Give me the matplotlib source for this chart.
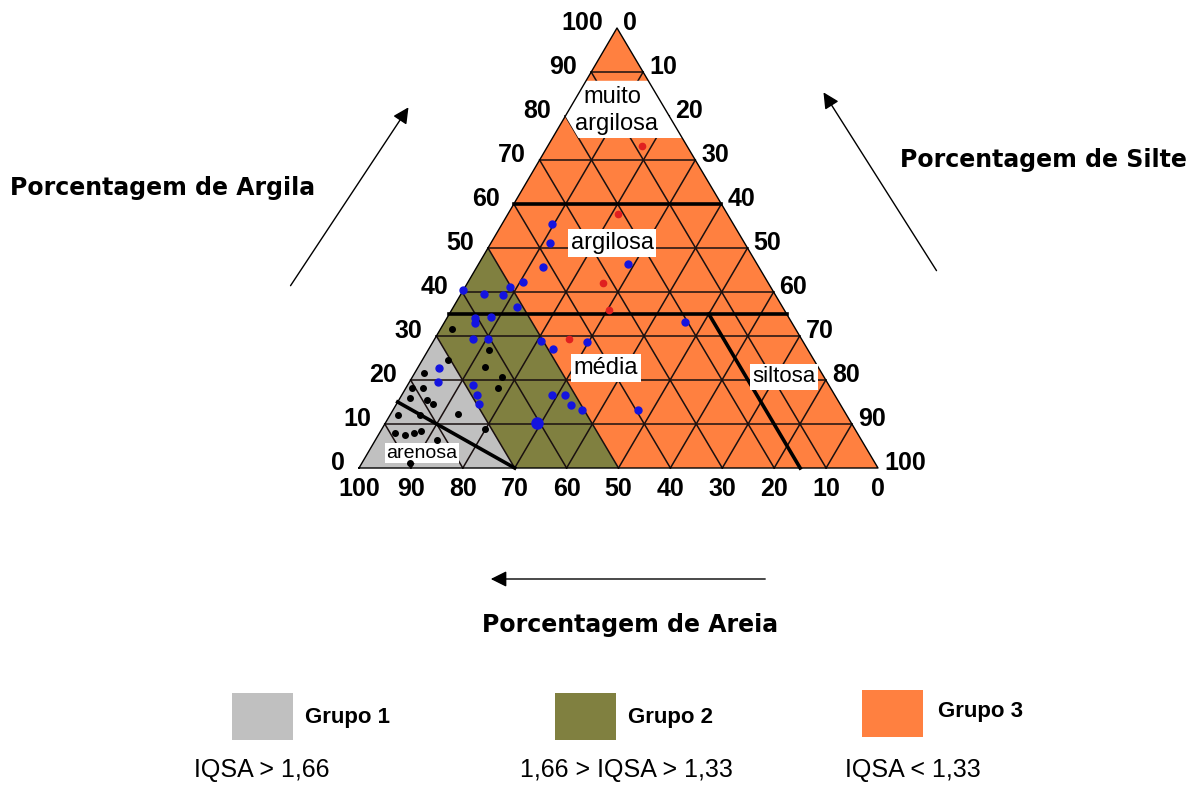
import numpy as np
import matplotlib
matplotlib.use('Agg')
import matplotlib.pyplot as plt
from matplotlib.patches import Polygon

plt.rcParams['font.family'] = ['Liberation Sans', 'DejaVu Sans']

# --- DATA (porcentagens: argila, areia; silte = 100 - argila - areia) ---
ticks = [0, 10, 20, 30, 40, 50, 60, 70, 80, 90, 100]

# grupos (IQSA)
grupo1_argila = [0, 0, 30]
grupo1_areia = [100, 70, 70]
grupo2_argila = [0, 0, 50, 30]
grupo2_areia = [70, 50, 50, 70]
# faixa branca "muito argilosa"
branco_argila = [88, 80, 75, 75, 88]
branco_areia = [12, 20, 20, 0, 0]

# linhas das classes texturais (inicio, fim) em (argila, areia)
classes_ini = [(60, 40), (35, 65), (35, 15), (0, 70)]
classes_fim = [(60, 0), (35, 0), (0, 15), (15, 85)]

pretos_argila = [31.6, 24.5, 21.6, 18.2, 18.2, 15.9, 15.5, 14.5, 12.0, 12.0, 12.3,
                 8.0, 7.5, 8.0, 8.4, 6.4, 8.9, 1.1, 26.8, 23.0, 20.7, 18.2]
pretos_areia = [66.2, 70.5, 76.6, 80.6, 78.5, 82.2, 79.1, 78.4, 86.4, 82.2, 74.7,
                89.0, 87.4, 85.4, 83.8, 81.7, 71.3, 89.6, 61.5, 64.2, 62.0, 64.1]

azuis_argila = [40.5, 39.5, 39.3, 41.1, 42.3, 36.6, 34.1, 33.0, 34.3, 29.3, 29.3,
                22.7, 19.5, 18.9, 16.6, 14.5, 28.9, 27.0, 16.6, 16.6, 14.3, 13.2,
                45.7, 51.1, 55.5, 46.4, 33.2, 28.6, 13.2]
azuis_areia = [59.6, 56.0, 52.5, 50.2, 47.1, 51.2, 60.5, 61.1, 57.3, 63.3, 60.4,
               73.2, 75.0, 68.5, 68.9, 69.5, 50.4, 49.0, 54.5, 52.0, 52.0, 50.4,
               41.6, 37.5, 34.9, 24.8, 20.5, 41.7, 39.6]
azul_grande_argila = [10.2]
azul_grande_areia = [60.6]

vermelhos_argila = [73.2, 57.7, 42.0, 35.9, 29.3]
vermelhos_areia = [8.7, 21.1, 31.9, 33.8, 44.8]

grupos = ['Grupo 1', 'Grupo 2', 'Grupo 3']
iqsa = ['IQSA > 1,66', '1,66 > IQSA > 1,33', 'IQSA < 1,33']
cores = ['#c0c0c0', '#808040', '#ff8040']

# --- triangle corners (pixels) ---
P_AREIA = (359.0, 468.0)
P_SILTE = (878.0, 468.0)
P_ARGILA = (617.0, 28.0)


def tern(argila, areia):
    argila = np.asarray(argila, float) / 100
    areia = np.asarray(areia, float) / 100
    silte = 1 - argila - areia
    x = areia * P_AREIA[0] + silte * P_SILTE[0] + argila * P_ARGILA[0]
    y = areia * P_AREIA[1] + silte * P_SILTE[1] + argila * P_ARGILA[1]
    return x, y


def poly(argila, areia, **kw):
    x, y = tern(argila, areia)
    return Polygon(np.column_stack([x, y]), closed=True, **kw)


fig = plt.figure(figsize=(12, 7.87), dpi=100)
ax = fig.add_axes([0, 0, 1, 1])
ax.set_xlim(0, 1200)
ax.set_ylim(787, 0)
ax.axis('off')

# fills
ax.add_patch(poly([0, 0, 100], [100, 0, 0], facecolor=cores[2], edgecolor='none', zorder=1))
ax.add_patch(poly(grupo1_argila, grupo1_areia, facecolor=cores[0], edgecolor='none', zorder=1.1))
ax.add_patch(poly(grupo2_argila, grupo2_areia, facecolor=cores[1], edgecolor='none', zorder=1.1))

# grid
grid_kw = dict(color='#1a1010', lw=1.1, zorder=2)
for v in ticks[1:-1]:
    x, y = tern([v, v], [100 - v, 0])
    ax.plot(x, y, **grid_kw)
    x, y = tern([0, 100 - v], [v, v])
    ax.plot(x, y, **grid_kw)
    x, y = tern([0, 100 - v], [100 - v, 0])
    ax.plot(x, y, **grid_kw)

ax.add_patch(poly(branco_argila, branco_areia, facecolor='white', edgecolor='none', zorder=3))

# class boundaries
for (a0, s0), (a1, s1) in zip(classes_ini, classes_fim):
    x, y = tern([a0, a1], [s0, s1])
    ax.plot(x, y, color='black', lw=2.6, zorder=4)

# outline
x, y = tern([0, 0, 100, 0], [100, 0, 0, 100])
ax.plot(x, y, color='black', lw=1.0, zorder=4)

# tick labels
tk = dict(fontsize=18, fontweight='bold', color='black', zorder=6)
for v in ticks:
    x, y = tern(v, 100 - v)
    ax.text(x - 14, y - 5, str(v), ha='right', va='center', **tk)
    x, y = tern(100 - v, 0)
    ax.text(x + 6, y - 5, str(v), ha='left', va='center', **tk)
    x, y = tern(0, v)
    ax.text(x, y + 21, str(v), ha='center', va='center', **tk)

# class labels
ax.text(612, 97, 'muito', fontsize=17, ha='center', va='center', zorder=5)
ax.text(617, 124, 'argilosa', fontsize=17, ha='center', va='center', zorder=5)
box = dict(facecolor='white', edgecolor='none', pad=2)
ax.text(612, 243, 'argilosa', fontsize=17, ha='center', va='center', bbox=box, zorder=5)
ax.text(606, 368, 'média', fontsize=17, ha='center', va='center', bbox=box, zorder=5)
ax.text(784, 377, 'siltosa', fontsize=16, ha='center', va='center', bbox=box, zorder=5)
ax.text(422, 453, 'arenosa', fontsize=14, ha='center', va='center',
        bbox=dict(facecolor='white', edgecolor='none', pad=1), zorder=5)

# points
x, y = tern(pretos_argila, pretos_areia)
ax.plot(x, y, 'o', color='black', ms=4, zorder=7)
x, y = tern(azuis_argila, azuis_areia)
ax.plot(x, y, 'o', color='#1414e0', ms=5, zorder=7)
x, y = tern(azul_grande_argila, azul_grande_areia)
ax.plot(x, y, 'o', color='#1414e0', ms=8, zorder=7)
x, y = tern(vermelhos_argila, vermelhos_areia)
ax.plot(x, y, 'o', color='#e02020', ms=4.5, zorder=7)

# axis titles and arrows
tt = dict(fontsize=17, fontweight='bold', family='DejaVu Sans', va='center')
ax.text(10, 188, 'Porcentagem de Argila', ha='left', **tt)
ax.text(900, 160, 'Porcentagem de Silte', ha='left', **tt)
ax.text(630, 625, 'Porcentagem de Areia', ha='center', **tt)
arr = dict(arrowstyle='-|>', color='black', lw=1.0, mutation_scale=24)
ax.annotate('', xy=(410, 105), xytext=(289, 288), arrowprops=arr)
ax.annotate('', xy=(822, 90), xytext=(938, 273), arrowprops=arr)
ax.annotate('', xy=(488, 579), xytext=(768, 579), arrowprops=arr)

# legend
sq_x = [232, 555, 862]
sq_y = [693, 693, 690]
txt_x = [305, 628, 938]
txt_y = [717, 717, 712]
iq_x = [262, 626, 913]
for i in range(3):
    ax.add_patch(plt.Rectangle((sq_x[i], sq_y[i]), 61, 47, facecolor=cores[i], edgecolor='none'))
    ax.text(txt_x[i], txt_y[i], grupos[i], fontsize=16, fontweight='bold', ha='left', va='center')
    ax.text(iq_x[i], 770, iqsa[i], fontsize=18, ha='center', va='center')

fig.savefig('out.png', dpi=100, facecolor='white')
